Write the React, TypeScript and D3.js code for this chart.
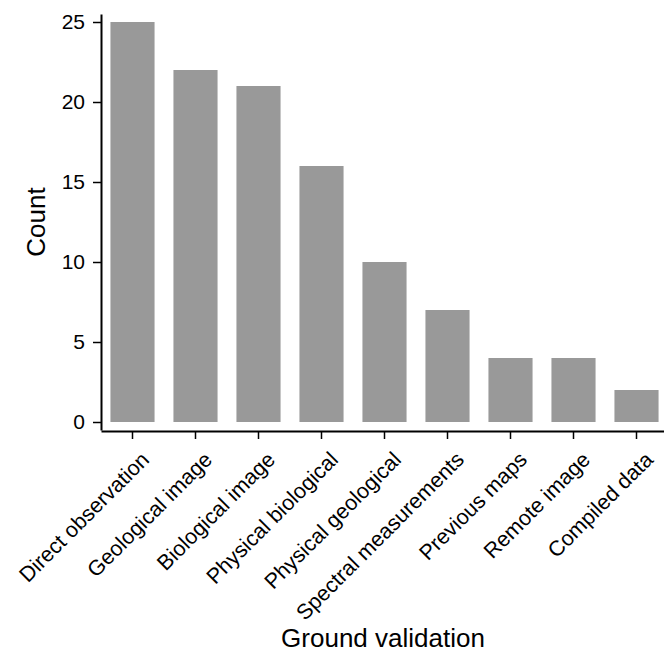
import React, { useEffect, useRef } from 'react';
import * as d3 from 'd3';

const categories = [
  'Direct observation',
  'Geological image',
  'Biological image',
  'Physical biological',
  'Physical geological',
  'Spectral measurements',
  'Previous maps',
  'Remote image',
  'Compiled data',
];
const counts = [25, 22, 21, 16, 10, 7, 4, 4, 2];
const yTicks = [0, 5, 10, 15, 20, 25];

const App = () => {
  const svgRef = useRef<SVGSVGElement>(null);

  useEffect(() => {
    const w = 664;
    const h = 653;
    const left = 101;
    const font = "'Liberation Sans', Arial, sans-serif";

    const svg = d3.select(svgRef.current).attr('width', w).attr('height', h);
    svg.selectAll('*').remove();

    const xScale = d3
      .scaleBand<string>()
      .domain(categories)
      .range([left, left + 9 * 63])
      .paddingInner(0.3)
      .paddingOuter(0.15);

    const yScale = d3.scaleLinear().domain([-0.5, 25.5]).range([430, 14]);

    // bars
    svg
      .selectAll('.bar')
      .data(counts)
      .join('rect')
      .attr('class', 'bar')
      .attr('x', (d, i) => xScale(categories[i]) as number)
      .attr('width', xScale.bandwidth())
      .attr('y', (d) => yScale(d))
      .attr('height', (d) => yScale(0) - yScale(d))
      .attr('fill', '#999999');

    // y axis
    const yAxis = d3
      .axisLeft(yScale)
      .tickValues(yTicks)
      .tickSize(8)
      .tickPadding(8)
      .tickSizeOuter(0);
    const gy = svg.append('g').attr('transform', `translate(${left},0)`).call(yAxis);
    gy.select('.domain').attr('stroke-width', 2);
    gy.selectAll('.tick line').attr('stroke-width', 1.5);
    gy.selectAll('.tick text')
      .attr('font-family', font)
      .attr('font-size', 21)
      .attr('fill', '#000');

    // x axis
    const xAxis = d3.axisBottom(xScale).tickSize(8).tickSizeOuter(0);
    const gx = svg.append('g').attr('transform', `translate(0,431)`).call(xAxis);
    gx.select('.domain').attr('stroke-width', 2);
    gx.selectAll('.tick line').attr('stroke-width', 1.5);
    gx.selectAll('.tick text').remove();
    gx.selectAll('.tick')
      .append('text')
      .attr('transform', 'translate(7,19) rotate(-45)')
      .attr('dy', '0.72em')
      .attr('text-anchor', 'end')
      .attr('font-family', font)
      .attr('font-size', 21.5)
      .attr('fill', '#000')
      .text((d) => d as string);

    svg
      .append('text')
      .attr('x', 383)
      .attr('y', 647)
      .attr('text-anchor', 'middle')
      .attr('font-family', font)
      .attr('font-size', 26)
      .text('Ground validation');

    svg
      .append('text')
      .attr('transform', 'rotate(-90)')
      .attr('x', -222)
      .attr('y', 45)
      .attr('text-anchor', 'middle')
      .attr('font-family', font)
      .attr('font-size', 26)
      .text('Count');
  }, []);

  return (
    <div>
      <svg ref={svgRef} style={{ position: 'absolute', left: 0, top: 0, background: '#fff' }}></svg>
    </div>
  );
};

export default App;
